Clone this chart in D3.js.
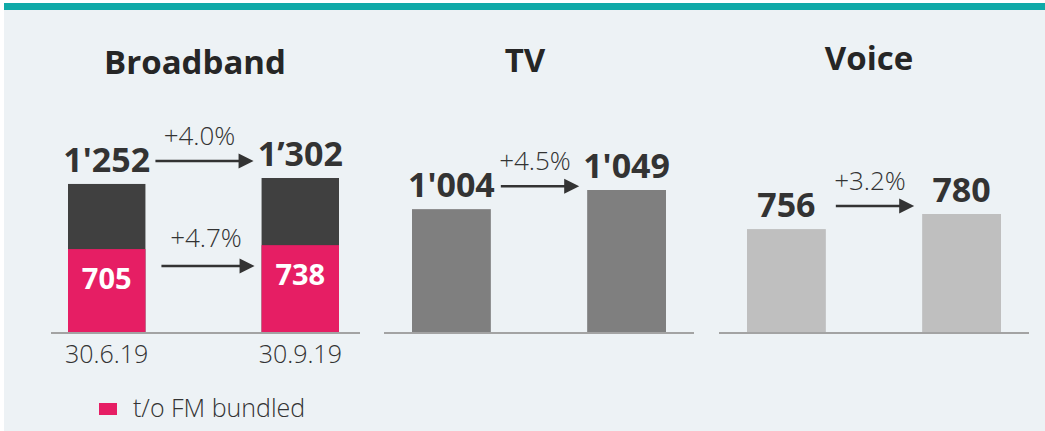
<!DOCTYPE html>
<html>
<head>
<meta charset="utf-8">
<script src="https://cdn.jsdelivr.net/npm/d3@7"></script>
<style>
  html, body { margin: 0; padding: 0; background: #ffffff; }
  svg { display: block; font-family: "Open Sans", "DejaVu Sans", sans-serif; }
</style>
</head>
<body>
<svg id="chart" width="1045" height="431"></svg>
<script>
// data
const panelTitles = ["Broadband", "TV", "Voice"];
const dates = ["30.6.19", "30.9.19"];
const broadbandTotal = [1252, 1302];
const broadbandFM = [705, 738];
const tvValues = [1004, 1049];
const voiceValues = [756, 780];
const broadbandLabels = ["1'252", "1\u2019302"];
const fmLabels = ["705", "738"];
const tvLabels = ["1'004", "1'049"];
const voiceLabels = ["756", "780"];
const growthLabels = ["+4.0%", "+4.5%", "+3.2%"];
const fmGrowthLabel = "+4.7%";
const legendLabel = "t/o FM bundled";

const colors = {
  teal: "#10aaa8",
  bg: "#edf2f5",
  fm: "#e61e64",
  broadband: "#404040",
  tv: "#7f7f7f",
  voice: "#bfbfbf",
  axis: "#a3a3a3",
  text: "#333333"
};

const svg = d3.select("#chart");
svg.append("rect").attr("x", 4).attr("y", 3).attr("width", 1041).attr("height", 428).attr("fill", colors.bg);
svg.append("rect").attr("x", 4).attr("y", 3).attr("width", 1041).attr("height", 7).attr("fill", colors.teal);

const baseY = 333;

// panel layout: baseline extent, bar range, title x, y domain
const panels = [
  { title: panelTitles[0], values: broadbandTotal, labels: broadbandLabels, color: colors.broadband,
    axis: [51, 360], bars: [68, 339], titleX: 195, titleY: 74, domain: [0, 1302], top: 178 },
  { title: panelTitles[1], values: tvValues, labels: tvLabels, color: colors.tv,
    axis: [384, 694], bars: [412, 666], titleX: 525, titleY: 72, domain: [713, 1049], top: 190 },
  { title: panelTitles[2], values: voiceValues, labels: voiceLabels, color: colors.voice,
    axis: [719, 1029], bars: [747, 1001], titleX: 869, titleY: 70, domain: [591, 780], top: 214 }
];

function arrow(g, x1, x2, y) {
  g.append("line")
    .attr("x1", x1).attr("x2", x2 - 12)
    .attr("y1", y).attr("y2", y)
    .attr("stroke", colors.text).attr("stroke-width", 2.5);
  g.append("path")
    .attr("d", `M${x2 - 15},${y - 7.5}L${x2},${y}L${x2 - 15},${y + 7.5}Z`)
    .attr("fill", colors.text);
}

panels.forEach((p, i) => {
  const g = svg.append("g");
  const x = d3.scaleBand().domain(dates).range(p.bars).paddingInner(p.bars[1] - p.bars[0] > 260 ? 0.6 : 0.55);
  const y = d3.scaleLinear().domain(p.domain).range([baseY, p.top]);

  g.append("text")
    .attr("x", p.titleX).attr("y", p.titleY)
    .attr("text-anchor", "middle")
    .attr("font-size", 33).attr("font-weight", 700)
    .attr("fill", "#262626")
    .text(p.title);

  g.selectAll(".bar")
    .data(p.values)
    .enter()
    .append("rect")
    .attr("class", "bar")
    .attr("x", (d, j) => x(dates[j]))
    .attr("y", d => y(d))
    .attr("width", x.bandwidth())
    .attr("height", d => baseY - y(d))
    .attr("fill", p.color);

  if (i === 0) {
    g.selectAll(".fm")
      .data(broadbandFM)
      .enter()
      .append("rect")
      .attr("class", "fm")
      .attr("x", (d, j) => x(dates[j]))
      .attr("y", d => y(d))
      .attr("width", x.bandwidth())
      .attr("height", d => baseY - y(d))
      .attr("fill", colors.fm);

    g.selectAll(".fmlabel")
      .data(broadbandFM)
      .enter()
      .append("text")
      .attr("class", "fmlabel")
      .attr("x", (d, j) => x(dates[j]) + x.bandwidth() / 2)
      .attr("y", d => y(d) + 40)
      .attr("text-anchor", "middle")
      .attr("font-size", 29).attr("font-weight", 700)
      .attr("fill", "#ffffff")
      .text((d, j) => fmLabels[j]);

    const fy = y(broadbandFM[0]) + 17;
    const fx1 = x(dates[0]) + x.bandwidth() + 16;
    const fx2 = x(dates[1]) - 7;
    arrow(g, fx1, fx2, fy);
    g.append("text")
      .attr("x", (fx1 + fx2) / 2 - 2).attr("y", fy - 19)
      .attr("text-anchor", "middle")
      .attr("font-size", 26).attr("font-weight", 300)
      .attr("fill", colors.text)
      .text(fmGrowthLabel);

    g.selectAll(".date")
      .data(dates)
      .enter()
      .append("text")
      .attr("class", "date")
      .attr("x", d => x(d) + x.bandwidth() / 2)
      .attr("y", baseY + 30)
      .attr("text-anchor", "middle")
      .attr("font-size", 25).attr("font-weight", 300)
      .attr("fill", colors.text)
      .text(d => d);

    g.append("rect").attr("x", 99).attr("y", 403).attr("width", 18).attr("height", 12).attr("fill", colors.fm);
    g.append("text")
      .attr("x", 133).attr("y", 417)
      .attr("font-size", 25).attr("font-weight", 300)
      .attr("fill", colors.text)
      .text(legendLabel);
  }

  g.append("line")
    .attr("x1", p.axis[0]).attr("x2", p.axis[1])
    .attr("y1", baseY).attr("y2", baseY)
    .attr("stroke", colors.axis).attr("stroke-width", 2);

  g.selectAll(".vlabel")
    .data(p.values)
    .enter()
    .append("text")
    .attr("class", "vlabel")
    .attr("x", (d, j) => x(dates[j]) + x.bandwidth() / 2)
    .attr("y", d => y(d) - 12)
    .attr("text-anchor", "middle")
    .attr("font-size", 34).attr("font-weight", 700)
    .attr("fill", colors.text)
    .text((d, j) => p.labels[j]);

  const ay = y(p.values[0]) - 23;
  const ax1 = x(dates[0]) + x.bandwidth() + 10;
  const ax2 = x(dates[1]) - 8;
  arrow(g, ax1, ax2, ay);
  g.append("text")
    .attr("x", (ax1 + ax2) / 2 - 5).attr("y", ay - 16)
    .attr("text-anchor", "middle")
    .attr("font-size", 26).attr("font-weight", 300)
    .attr("fill", colors.text)
    .text(growthLabels[i]);
});
</script>
</body>
</html>
